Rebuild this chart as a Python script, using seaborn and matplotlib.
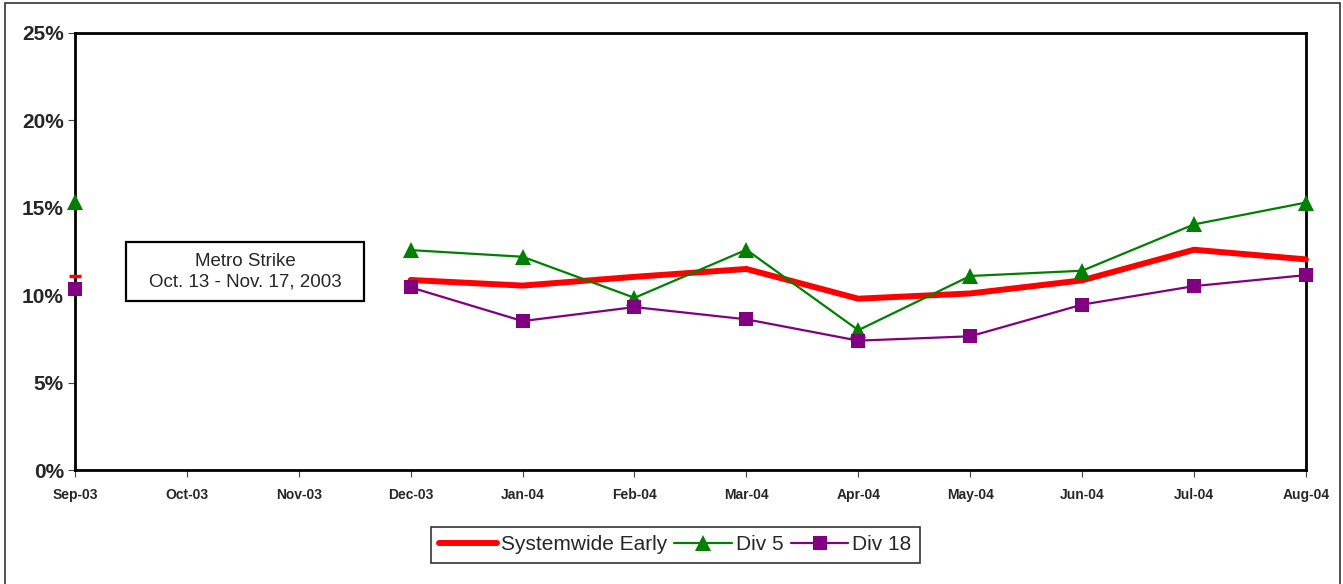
import numpy as np
import pandas as pd
import matplotlib
matplotlib.use("Agg")
import matplotlib.pyplot as plt
import seaborn as sns
from matplotlib.patches import Rectangle

# Monthly early-departure rates (%), strike months have no data
months = ['Sep-03', 'Oct-03', 'Nov-03', 'Dec-03', 'Jan-04', 'Feb-04',
          'Mar-04', 'Apr-04', 'May-04', 'Jun-04', 'Jul-04', 'Aug-04']
systemwide = [11.1, np.nan, np.nan, 10.87, 10.55, 11.05, 11.5, 9.8, 10.1, 10.85, 12.6, 12.05]
div5 = [15.35, np.nan, np.nan, 12.58, 12.2, 9.85, 12.6, 8.0, 11.1, 11.4, 14.05, 15.3]
div18 = [10.38, np.nan, np.nan, 10.45, 8.52, 9.32, 8.62, 7.4, 7.65, 9.46, 10.52, 11.15]
yticks = [0, 5, 10, 15, 20, 25]

sns.set_style("white")
plt.rcParams['font.family'] = ['Liberation Sans', 'DejaVu Sans']


def segments(values):
    """Split a series into runs of consecutive non-missing points."""
    runs, cur = [], []
    for i, v in enumerate(values):
        if np.isnan(v):
            if cur:
                runs.append(cur)
            cur = []
        else:
            cur.append(i)
    if cur:
        runs.append(cur)
    return runs


fig = plt.figure(figsize=(13.43, 5.84), dpi=100)
ax = fig.add_axes([0.0558, 0.1952, 0.9166, 0.7483])

x = np.arange(len(months))
series = [
    ("Systemwide Early", systemwide, "#FF0000", None, 4.3, 0),
    ("Div 5", div5, "#008000", "^", 1.6, 11),
    ("Div 18", div18, "#800080", "s", 1.6, 10.5),
]

handles = []
for name, vals, color, marker, lw, ms in series:
    vals = np.asarray(vals)
    for run in segments(vals):
        df = pd.DataFrame({"x": x[run], "y": vals[run]})
        if len(run) == 1 and marker is None:
            # lone point on a plain line: Excel shows a short dash
            ax.plot(df["x"], df["y"], marker="_", color=color, markersize=8,
                    markeredgewidth=2.5, linestyle="none", zorder=3, clip_on=False)
            continue
        sns.lineplot(data=df, x="x", y="y", ax=ax, color=color, linewidth=lw,
                     marker=marker, markersize=ms, markeredgewidth=0,
                     estimator=None, sort=False, legend=False, zorder=3,
                     clip_on=False)
    h, = ax.plot([], [], color=color, linewidth=lw, marker=marker,
                 markersize=ms, markeredgewidth=0, label=name)
    handles.append(h)

ax.set_xlim(0, len(months) - 1)
ax.set_ylim(0, 25)
ax.set_xticks(x)
ax.set_xticklabels(months, fontsize=10, fontweight="bold")
ax.set_yticks(yticks)
ax.set_yticklabels([f"{t}%" for t in yticks], fontsize=15, fontweight="bold")
ax.set_xlabel("")
ax.set_ylabel("")
ax.tick_params(axis="x", direction="out", length=5, width=0.8, color="#444444", pad=8,
               bottom=True)
ax.tick_params(axis="y", direction="out", length=5, width=0.8, color="#444444", pad=3,
               left=True)
for sp in ax.spines.values():
    sp.set_visible(True)
    sp.set_color("black")
    sp.set_linewidth(2)

# strike annotation box
ax.add_patch(Rectangle((0.456, 9.67), 2.127, 3.37, facecolor="white", edgecolor="black",
                       linewidth=1.6, zorder=4))
ax.text(1.52, 11.35, "Metro Strike\nOct. 13 - Nov. 17, 2003", ha="center", va="center",
        fontsize=13.5, linespacing=1.3, zorder=5)

leg = fig.legend(handles=handles, loc="center", bbox_to_anchor=(0.503, 0.067), ncol=3,
                 fontsize=15, frameon=True, fancybox=False, shadow=False,
                 handlelength=2.75, handletextpad=0.2, columnspacing=0.35,
                 borderpad=0.4, borderaxespad=0)
leg.get_frame().set_edgecolor("black")
leg.get_frame().set_linewidth(1.2)

fig.patches.append(Rectangle((0.004, -0.01), 0.9935, 1.005, transform=fig.transFigure,
                             fill=False, edgecolor="#333333", linewidth=1.2))

fig.savefig("out.png", dpi=100)
